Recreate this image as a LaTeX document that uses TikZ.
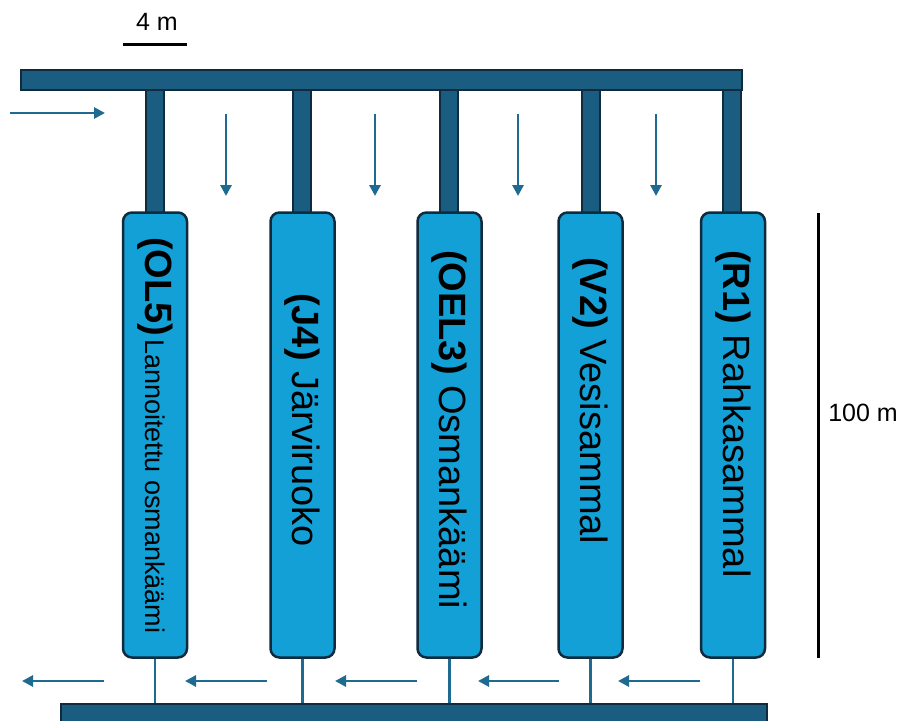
\documentclass[tikz,border=0pt]{standalone}
\usepackage{fontspec}
\setmainfont{Liberation Sans}
\usetikzlibrary{arrows.meta}

\definecolor{pipefill}{HTML}{1A5D80}
\definecolor{edgecol}{HTML}{0F2B3D}
\definecolor{tankfill}{HTML}{12A0D7}
\definecolor{flowcol}{HTML}{1E6A90}

\tikzset{
  bar/.style={draw=edgecol, fill=pipefill, line width=2pt},
  pipe/.style={draw=edgecol, fill=pipefill, line width=2pt},
  tank/.style={draw=edgecol, fill=tankfill, line width=2.5pt, rounded corners=9pt,
    minimum width=64pt, minimum height=445pt, inner sep=0pt},
  outlet/.style={draw=flowcol, line width=2.5pt},
  flow/.style={draw=flowcol, line width=2.8pt, -{Triangle[length=11pt,width=11pt]}},
  label/.style={rotate=-90, anchor=west, inner sep=0pt, text=black},
  big/.style={font=\fontsize{38}{40}\selectfont},
  scalebar/.style={draw=black, line width=3pt},
  scaletext/.style={font=\fontsize{25}{28}\selectfont, inner sep=0pt, text=black}
}

\begin{document}
\begin{tikzpicture}[x=1pt, y=-1pt]
  \useasboundingbox (0,0) rectangle (902,720);
  \clip (0,0) rectangle (902,720);

  % vertical feed pipes from the top header down to each cell
  \foreach \cx in {155,302,449,591,732} {
    \path[pipe] (\cx-9,80) rectangle (\cx+9,214);
  }

  % top header
  \node[bar, minimum width=721pt, minimum height=20pt, inner sep=0pt, anchor=north west]
    (top) at (20,69) {};

  % bottom collector
  \node[bar, minimum width=706pt, minimum height=24pt, inner sep=0pt, anchor=north west]
    (bot) at (60,703) {};

  % cells
  \node[tank] (t1) at (155,435) {};
  \node[tank] (t2) at (302.5,435) {};
  \node[tank] (t3) at (449.5,435) {};
  \node[tank] (t4) at (590.5,435) {};
  \node[tank] (t5) at (733,435) {};

  % outlets into the collector
  \foreach \t in {t1,t2,t3,t4,t5} {
    \draw[outlet] (\t.south) -- (\t.south |- bot.north);
  }

  % cell labels
  \node[label] (l1) at (155,237)
    {{\fontsize{38}{40}\selectfont\bfseries (OL5)} {\fontsize{27}{30}\selectfont Lannoitettu osmankäämi}};
  \node[label, big] (l2) at (302.5,293) {\textbf{(J4)} Järviruoko};
  \node[label, big] (l3) at (449.5,250) {\textbf{(OEL3)} Osmankäämi};
  \node[label, big] (l4) at (590.5,257) {\textbf{(V2)} Vesisammal};
  \node[label, big] (l5) at (733,250) {\textbf{(R1)} Rahkasammal};

  % flow direction arrows
  \coordinate (in0) at (10,113);
  \coordinate (in1) at (105,113);
  \draw[flow] (in0) -- (in1);
  \foreach \ax in {226,375,518,656} {
    \draw[flow] (\ax,114) -- (\ax,196);
  }
  \foreach \xa/\xb in {104/22, 267/185, 417/335, 559/478, 700/618} {
    \draw[flow] (\xa,681) -- (\xb,681);
  }

  % scale bars
  \coordinate (s4a) at (123,44);
  \coordinate (s4b) at (187,44);
  \draw[scalebar] (s4a) -- (s4b);
  \node[scaletext] (s4t) at (157,22) {4 m};

  \coordinate (s100a) at (818,213);
  \coordinate (s100b) at (818,658);
  \draw[scalebar] (s100a) -- (s100b);
  \node[scaletext] (s100t) at (863,413) {100 m};
\end{tikzpicture}
\end{document}
